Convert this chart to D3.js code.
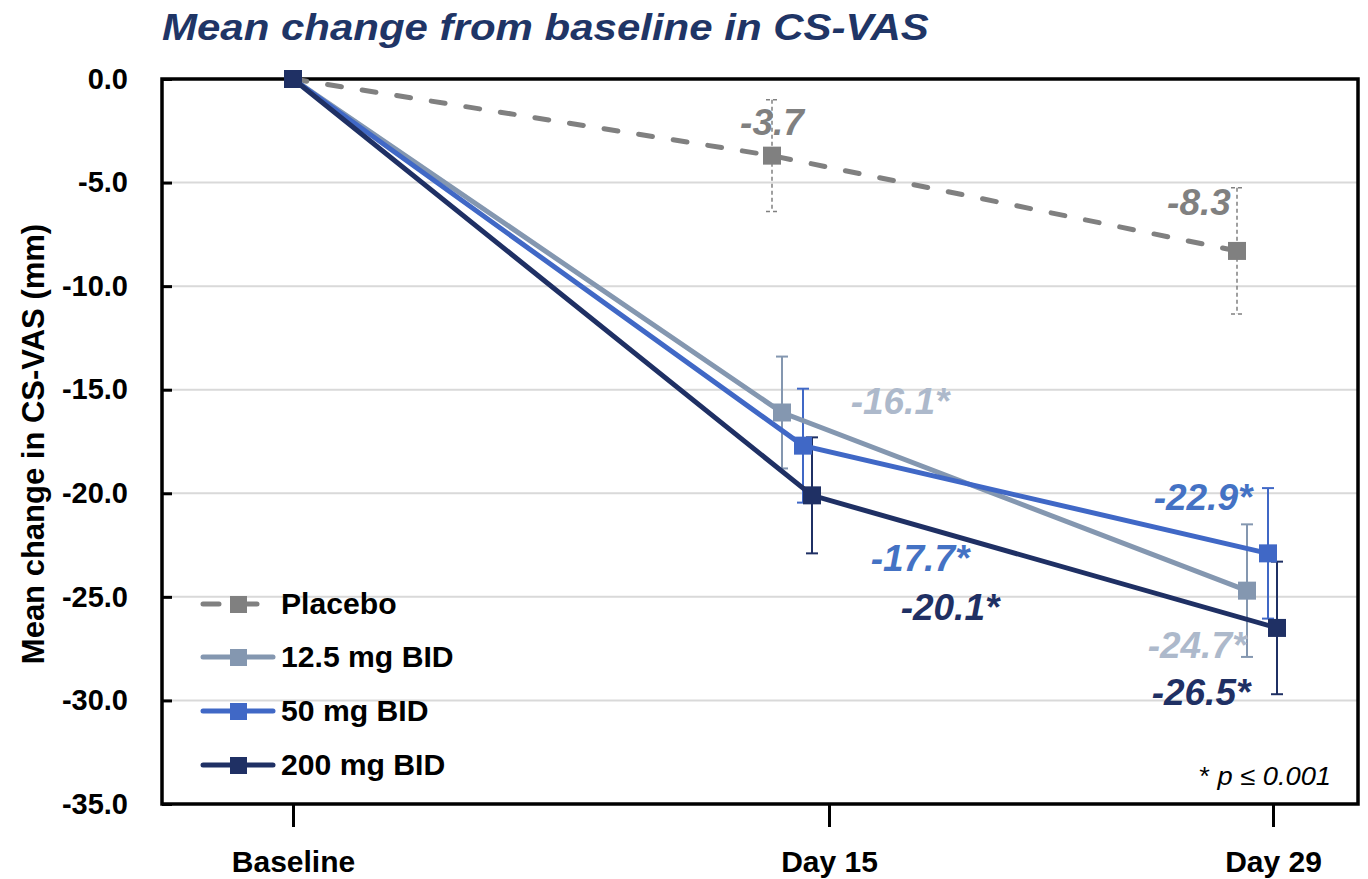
<!DOCTYPE html>
<html>
<head>
<meta charset="utf-8">
<script src="https://cdn.jsdelivr.net/npm/d3@7"></script>
<style>
  html, body { margin: 0; padding: 0; background: #fff; }
  svg { display: block; font-family: "Liberation Sans", Arial, sans-serif; }
</style>
</head>
<body>
<svg id="chart" width="1368" height="879"></svg>
<script>
// chart values
const visits = ['Baseline', 'Day 15', 'Day 29'];
const visitDays = [0, 15, 29];
const seriesNames = ['Placebo', '12.5 mg BID', '50 mg BID', '200 mg BID'];
const placebo = [0, -3.7, -8.3];
const dose12 = [0, -16.1, -24.7];
const dose50 = [0, -17.7, -22.9];
const dose200 = [0, -20.1, -26.5];
const placeboErr = [0, 2.7, 3.05];
const dose12Err = [0, 2.7, 3.2];
const dose50Err = [0, 2.75, 3.15];
const dose200Err = [0, 2.8, 3.2];
const significant = [false, true, true, true];
const yTicks = [0, -5, -10, -15, -20, -25, -30, -35];

// styling
const lineColors = ['#808080', '#8497b0', '#4068c6', '#1f3064'];
const labelColors = ['#808080', '#adb9cb', '#4472c4', '#1f3064'];
const seriesDodge = [0, 10, 31, 40];
const visitShift = [0, -57, -36];
// label offset from its point: [dx, dy] for Day 15 and Day 29
const labelOffsets = [
    [[0, -21], [-38, -36]],
    [[118, 1], [-50, 67]],
    [[117, 125], [-65, -43]],
    [[138, 125], [-76, 77]]
];

const values = [placebo, dose12, dose50, dose200];
const errors = [placeboErr, dose12Err, dose50Err, dose200Err];

// hyphen instead of the unicode minus d3.format would give
const fmt = d => d.toFixed(1);

const svg = d3.select('#chart');
const plotLeft = 162, plotRight = 1358, plotTop = 79, plotBottom = 804;

const x = d3.scaleLinear().domain(visitDays).range([293, 829, 1273]);
const y = d3.scaleLinear().domain([-35, 0]).range([plotBottom, plotTop]);

function px(si, vi) {
    if (vi === 0) return x(visitDays[0]);
    return x(visitDays[vi]) + visitShift[vi] + seriesDodge[si];
}

// title
svg.append('text')
    .attr('transform', `translate(${plotLeft},40) scale(1.135,1)`)
    .attr('font-size', 37)
    .attr('font-weight', 'bold')
    .attr('font-style', 'italic')
    .attr('fill', '#1f3566')
    .text('Mean change from baseline in CS-VAS');

// grid
svg.append('g')
    .selectAll('line')
    .data(yTicks.filter(d => d !== 0 && d !== -35))
    .enter().append('line')
    .attr('x1', plotLeft).attr('x2', plotRight)
    .attr('y1', d => y(d)).attr('y2', d => y(d))
    .attr('stroke', '#d9d9d9')
    .attr('stroke-width', 2);

// y axis
const yAxis = svg.append('g')
    .attr('transform', `translate(${plotLeft},0)`)
    .call(d3.axisLeft(y).tickValues(yTicks).tickFormat(fmt).tickSize(-10).tickPadding(34));
yAxis.select('.domain').remove();
yAxis.selectAll('line').attr('stroke', '#000').attr('stroke-width', 3);
yAxis.selectAll('text')
    .attr('font-size', 29)
    .attr('font-weight', 'bold')
    .attr('fill', '#000')
    .attr('font-family', '"Liberation Sans", Arial, sans-serif');

// x axis
const xAxis = svg.append('g')
    .attr('transform', `translate(0,${plotBottom})`)
    .call(d3.axisBottom(x).tickValues(visitDays).tickFormat((d, i) => visits[i]).tickSize(23).tickPadding(24));
xAxis.select('.domain').remove();
xAxis.selectAll('line').attr('stroke', '#000').attr('stroke-width', 3);
xAxis.selectAll('text')
    .attr('font-size', 30)
    .attr('font-weight', 'bold')
    .attr('fill', '#000')
    .attr('font-family', '"Liberation Sans", Arial, sans-serif');

// y axis title
svg.append('text')
    .attr('transform', 'translate(44,444) rotate(-90)')
    .attr('text-anchor', 'middle')
    .attr('font-size', 31)
    .attr('font-weight', 'bold')
    .attr('fill', '#000')
    .text('Mean change in CS-VAS (mm)');

// frame
svg.append('rect')
    .attr('x', plotLeft).attr('y', plotTop)
    .attr('width', plotRight - plotLeft).attr('height', plotBottom - plotTop)
    .attr('fill', 'none')
    .attr('stroke', '#000')
    .attr('stroke-width', 3.5);

// error bars
const errG = svg.append('g');
values.forEach((vals, si) => {
    vals.forEach((v, vi) => {
        if (vi === 0) return;
        const cx = px(si, vi);
        const e = errors[si][vi];
        const g = errG.append('g')
            .attr('stroke', lineColors[si])
            .attr('stroke-width', si === 0 ? 1.5 : 2)
            .attr('stroke-dasharray', si === 0 ? '4,3' : null);
        g.append('line').attr('x1', cx).attr('x2', cx).attr('y1', y(v + e)).attr('y2', y(v - e));
        g.append('line').attr('x1', cx - 6).attr('x2', cx + 6).attr('y1', y(v + e)).attr('y2', y(v + e));
        g.append('line').attr('x1', cx - 6).attr('x2', cx + 6).attr('y1', y(v - e)).attr('y2', y(v - e));
    });
});

// lines and markers
const line = d3.line();
values.forEach((vals, si) => {
    const pts = vals.map((v, vi) => [px(si, vi), y(v)]);
    svg.append('path')
        .attr('d', line(pts))
        .attr('fill', 'none')
        .attr('stroke', lineColors[si])
        .attr('stroke-width', 5)
        .attr('stroke-linecap', si === 0 ? 'round' : 'butt')
        .attr('stroke-dasharray', si === 0 ? '14,21' : null);
});
values.forEach((vals, si) => {
    svg.append('g')
        .selectAll('rect')
        .data(vals)
        .enter().append('rect')
        .attr('x', (d, vi) => px(si, vi) - 9)
        .attr('y', d => y(d) - 9)
        .attr('width', 18)
        .attr('height', 18)
        .attr('fill', lineColors[si]);
});

// data labels
values.forEach((vals, si) => {
    vals.forEach((v, vi) => {
        if (vi === 0) return;
        const off = labelOffsets[si][vi - 1];
        svg.append('text')
            .attr('x', px(si, vi) + off[0])
            .attr('y', y(v) + off[1])
            .attr('text-anchor', 'middle')
            .attr('font-size', 37)
            .attr('font-weight', 'bold')
            .attr('font-style', 'italic')
            .attr('fill', labelColors[si])
            .text(fmt(v) + (significant[si] ? '*' : ''));
    });
});

// legend
const legend = svg.append('g').attr('transform', 'translate(203,0)');
const legendY = [604, 657, 711, 765];
seriesNames.forEach((name, si) => {
    const row = legend.append('g').attr('transform', `translate(0,${legendY[si]})`);
    row.append('line')
        .attr('x1', 0).attr('x2', 70)
        .attr('stroke', lineColors[si])
        .attr('stroke-width', 5)
        .attr('stroke-linecap', 'round')
        .attr('stroke-dasharray', si === 0 ? '16,22' : null);
    row.append('rect')
        .attr('x', 27).attr('y', -8)
        .attr('width', 17).attr('height', 17)
        .attr('fill', lineColors[si]);
    row.append('text')
        .attr('transform', 'translate(78,10) scale(1.04,1)')
        .attr('font-size', 29)
        .attr('font-weight', 'bold')
        .attr('fill', '#000')
        .text(name);
});

// footnote
const note = svg.append('text')
    .attr('transform', 'translate(1331,785) scale(1.05,1)')
    .attr('text-anchor', 'end')
    .attr('font-size', 26)
    .attr('fill', '#000');
note.append('tspan').text('* ');
note.append('tspan').attr('font-style', 'italic').text('p ≤ 0.001');
</script>
</body>
</html>
